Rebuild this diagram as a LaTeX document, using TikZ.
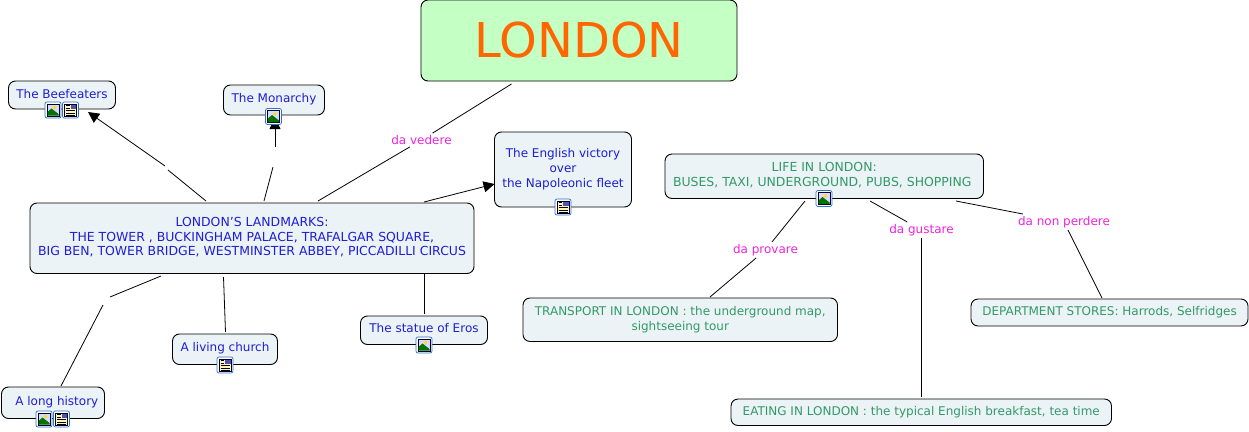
\documentclass[tikz,border=0pt]{standalone}
\usepackage{fontspec}
\setmainfont{DejaVu Sans}
\usetikzlibrary{arrows.meta}
\definecolor{nodefill}{HTML}{EBF3F7}
\definecolor{bluetxt}{HTML}{1E1ED2}
\definecolor{greentxt}{HTML}{339966}
\definecolor{linktxt}{HTML}{EE22DD}
\definecolor{titlefill}{HTML}{C4FFC4}
\definecolor{titletxt}{HTML}{FF6600}
\definecolor{iconblue}{HTML}{2F74C0}
\definecolor{docyellow}{HTML}{FFF6BE}
\tikzset{
  x=1pt,y=-1pt,
  concept/.style={draw=black,line width=0.9pt,fill=nodefill,rounded corners=7pt,inner sep=0pt,align=center,font=\fontsize{12}{14.6}\selectfont},
  upper/.style={font=\fontsize{12.45}{14.6}\selectfont},
  bluebox/.style={concept,text=bluetxt},
  greenbox/.style={concept,text=greentxt},
  linklabel/.style={text=linktxt,inner sep=2pt,font=\fontsize{12}{14}\selectfont},
  conn/.style={line width=0.8pt,black},
  arrowconn/.style={conn,-{Triangle[length=11pt,width=11pt]}},
}
\newcommand{\cbox}[7]{% name, style, x1,y1,x2,y2, text
  \node[#2,minimum width=#5-#3,minimum height=#6-#4] (#1) at ({(#3+#5)/2},{(#4+#6)/2}) {#7};}
\newcommand{\liftlines}[2]{\raisebox{#1}{\begin{tabular}{@{}c@{}}#2\end{tabular}}}
\newcommand{\iconframe}[2]{%
  \draw[iconblue,line width=0.7pt,fill=white,rounded corners=2pt] ({#1-8},{#2-8}) rectangle ({#1+8},{#2+8});
  \draw[black!80!blue,line width=0.6pt] ({#1-6},{#2-6}) rectangle ({#1+6},{#2+6});}
\newcommand{\imgicon}[2]{%
  \iconframe{#1}{#2}
  \fill[white!85!blue] ({#1-5.5},{#2-5.5}) rectangle ({#1+5.5},{#2+5.5});
  \fill[yellow!80!orange] ({#1+1.5},{#2-2.5}) circle (1.8);
  \fill[green!45!black] ({#1-5.5},{#2+5.5}) -- ({#1-5.5},{#2+2}) -- ({#1-1.5},{#2-1.5}) -- ({#1+5.5},{#2+4}) -- ({#1+5.5},{#2+5.5}) -- cycle;}
\newcommand{\docicon}[2]{%
  \iconframe{#1}{#2}
  \fill[docyellow] ({#1-5.5},{#2-5.5}) rectangle ({#1+5.5},{#2+5.5});
  \fill[blue!35!gray] ({#1},{#2-5.5}) rectangle ({#1+5.5},{#2-1});
  \foreach \yy/\xx in {-4.5/-0.8,-2/-0.8,0.5/4.5,3/4.5,5/4.5}{\draw[black,line width=0.6pt] ({#1-4.5},{#2+\yy}) -- ({#1+\xx},{#2+\yy});}}
\begin{document}
\begin{tikzpicture}
\useasboundingbox (0,0) rectangle (1249,431);
% connector end points
\coordinate (v1) at (511.5,84);
\coordinate (v2) at (318,201);
\coordinate (ba) at (206,201);
\coordinate (bg1) at (168,170);
\coordinate (bg2) at (165,166);
\coordinate (bb) at (88,112);
\coordinate (ma) at (264,201);
\coordinate (mg1) at (273,167);
\coordinate (mg2) at (275,147);
\coordinate (mb) at (275,118);
\coordinate (ea) at (424,202);
\coordinate (eb) at (494.5,184);
\coordinate (ha) at (161,276);
\coordinate (hg1) at (110,297);
\coordinate (hg2) at (103,305);
\coordinate (hb) at (61,386);
\coordinate (ca) at (223.5,277);
\coordinate (cb) at (225.5,332);
\coordinate (sa) at (424.5,274);
\coordinate (sb) at (424.5,314);
\coordinate (pa) at (805,201);
\coordinate (pb) at (710,297);
\coordinate (ga) at (870,201);
\coordinate (gb) at (921.5,397);
\coordinate (na) at (956,201);
\coordinate (nb) at (1102,298);
% labels
\node[linklabel] (lvedere) at (421.5,140) {da vedere};
\node[linklabel] (lprovare) at (765.5,250) {da provare};
\node[linklabel] (lgustare) at (921.5,230) {da gustare};
\node[linklabel] (lnon) at (1064,222) {da non perdere};
% connectors
\draw[conn] (v1) -- (lvedere);
\draw[conn] (lvedere) -- (v2);
\draw[conn] (ba) -- (bg1);
\draw[arrowconn] (bg2) -- (bb);
\draw[conn] (ma) -- (mg1);
\draw[arrowconn] (mg2) -- (mb);
\draw[arrowconn] (ea) -- (eb);
\draw[conn] (ha) -- (hg1);
\draw[conn] (hg2) -- (hb);
\draw[conn] (ca) -- (cb);
\draw[conn] (sa) -- (sb);
\draw[conn] (pa) -- (lprovare);
\draw[conn] (lprovare) -- (pb);
\draw[conn] (ga) -- (lgustare);
\draw[conn] (lgustare) -- (gb);
\draw[conn] (na) -- (lnon);
\draw[conn] (lnon) -- (nb);
% nodes
\node[draw=black,line width=0.9pt,fill=titlefill,rounded corners=7pt,minimum width=316pt,minimum height=81pt,text=titletxt,font=\fontsize{48}{50}\selectfont,inner sep=0pt] (london) at (579,40.5) {\raisebox{-2pt}{LONDON}};
\cbox{beef}{bluebox}{8.5}{81}{115.5}{109}{\raisebox{3pt}{The Beefeaters}}
\cbox{mon}{bluebox}{223.5}{85}{324.5}{115}{\raisebox{4pt}{The Monarchy}}
\cbox{land}{bluebox,upper}{30}{203}{474}{273.5}{\liftlines{9pt}{LONDON'S LANDMARKS:\\THE TOWER , BUCKINGHAM PALACE, TRAFALGAR SQUARE,\\BIG BEN, TOWER BRIDGE, WESTMINSTER ABBEY, PICCADILLI CIRCUS}}
\cbox{eng}{bluebox}{494.5}{132}{631.5}{207}{\liftlines{11pt}{The English victory\\over\\the Napoleonic fleet}}
\cbox{life}{greenbox,upper}{665}{154}{983.5}{198.5}{\liftlines{3pt}{LIFE IN LONDON:\\BUSES, TAXI, UNDERGROUND, PUBS, SHOPPING\ \ }}
\cbox{trans}{greenbox}{523}{298}{837.5}{341.5}{TRANSPORT IN LONDON : the underground map,\\sightseeing tour}
\cbox{dept}{greenbox}{971}{299}{1248}{326}{DEPARTMENT STORES: Harrods, Selfridges}
\cbox{eat}{greenbox}{731}{399}{1111.5}{425.5}{EATING IN LONDON : the typical English breakfast, tea time}
\cbox{eros}{bluebox}{360.5}{316}{487.5}{344.5}{\raisebox{4pt}{The statue of Eros}}
\cbox{church}{bluebox}{172.5}{334}{277.5}{364.5}{\raisebox{5pt}{A living church}}
\cbox{hist}{bluebox}{1.5}{387}{104.5}{418.5}{\raisebox{4pt}{\ \ A long history}}
% icons
\imgicon{53}{110}\docicon{70.5}{110}
\imgicon{273.5}{116.5}
\docicon{563}{207}
\imgicon{824}{198.5}
\imgicon{424}{345}
\docicon{225}{365}
\imgicon{44}{419}\docicon{61.5}{419}
\end{tikzpicture}
\end{document}
